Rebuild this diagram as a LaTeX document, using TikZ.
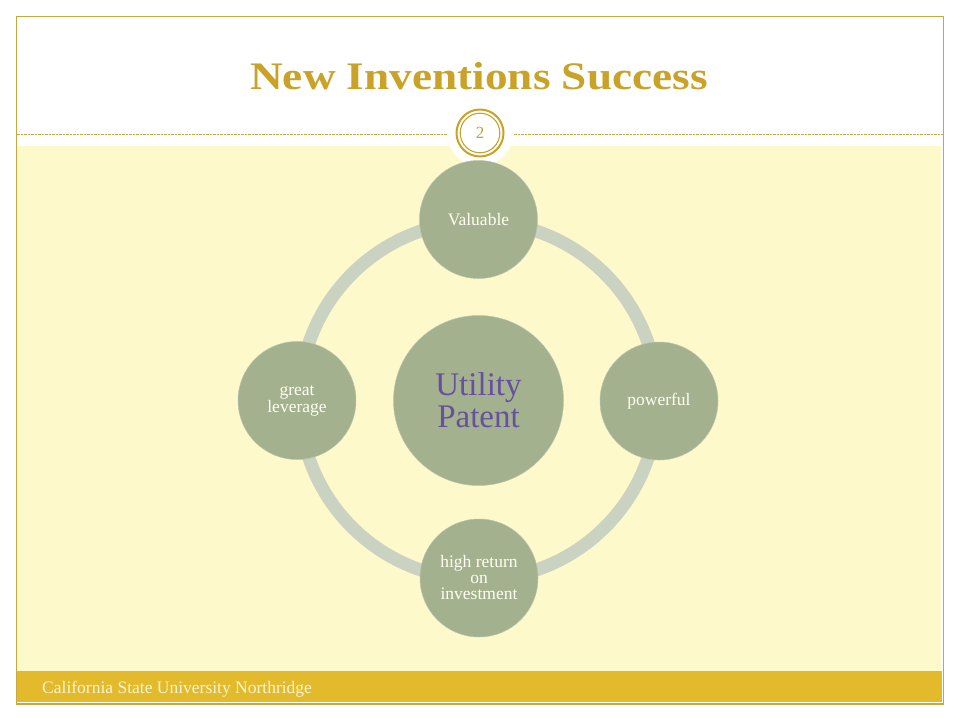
\documentclass[tikz,border=0pt]{standalone}
\usepackage{fontspec}
\setmainfont{Liberation Serif}
\usepackage{graphicx}
\definecolor{gold}{HTML}{C9A227}
\definecolor{framec}{HTML}{C8A83E}
\definecolor{bgyellow}{HTML}{FEF9CB}
\definecolor{footbar}{HTML}{E3BA2B}
\definecolor{foottext}{HTML}{FCF4D2}
\definecolor{nodefill}{HTML}{A3B18F}
\definecolor{ringc}{HTML}{CAD2C2}
\definecolor{purpletext}{HTML}{6650A0}
\definecolor{nodetext}{HTML}{FFFFF2}
\tikzset{
  smallcirc/.style={circle, fill=nodefill, draw=nodefill!75!white, line width=0.5pt,
    minimum size=118pt, inner sep=0pt, align=center, text=nodetext,
    font=\fontsize{17.5}{16}\selectfont},
  bigcirc/.style={circle, fill=nodefill, draw=nodefill!75!white, line width=0.5pt,
    minimum size=170pt, inner sep=0pt, align=center, text=purpletext,
    font=\fontsize{33}{32}\selectfont},
  ringline/.style={draw=ringc, line width=13pt},
}
\begin{document}
\begin{tikzpicture}[x=1pt,y=-1pt]
\useasboundingbox (0,0) rectangle (960,720);
\fill[white] (0,0) rectangle (960,720);
% yellow content area
\fill[bgyellow] (17,146) rectangle (941,671);
% footer bar
\fill[footbar] (17,671) rectangle (942,702);
% dashed separator
\draw[framec, line width=1pt, dash pattern=on 2.5pt off 1pt] (17,134) -- (943,134);
% frame
\draw[framec, line width=1.2pt] (16.5,16.5) rectangle (943.5,704);
% title
\node[text=gold, anchor=base, font=\bfseries\fontsize{39}{39}\selectfont] (title) at (479,89)
  {\scalebox{1.16}[1]{New Inventions Success}};
% page number badge
\fill[white] (480,133) circle[radius=33pt];
\draw[gold, line width=2pt] (480,133) circle[radius=23.5pt];
\draw[gold, line width=1.1pt] (480,133) circle[radius=19.8pt];
\node[text=gold, font=\fontsize{17}{17}\selectfont] (pagenum) at (480,133) {2};
% footer text
\node[text=foottext, anchor=base west, inner sep=0pt, font=\fontsize{17.5}{17.5}\selectfont] (footer) at (42,693)
  {California State University Northridge};
% cycle diagram
\coordinate (ctr) at (478.5,400.5);
\draw[ringline] (ctr) circle[radius=179pt];
\node[bigcirc] (U) at (ctr) {Utility\\Patent};
\node[smallcirc] (V) at (478.5,219.5) {Valuable};
\node[smallcirc] (P) at (659,401) {powerful};
\node[smallcirc] (H) at (479,578) {high return\\on\\investment};
\node[smallcirc, font=\fontsize{17.5}{15}\selectfont] (G) at (297,400.5) {great\\leverage};
\end{tikzpicture}
\end{document}
